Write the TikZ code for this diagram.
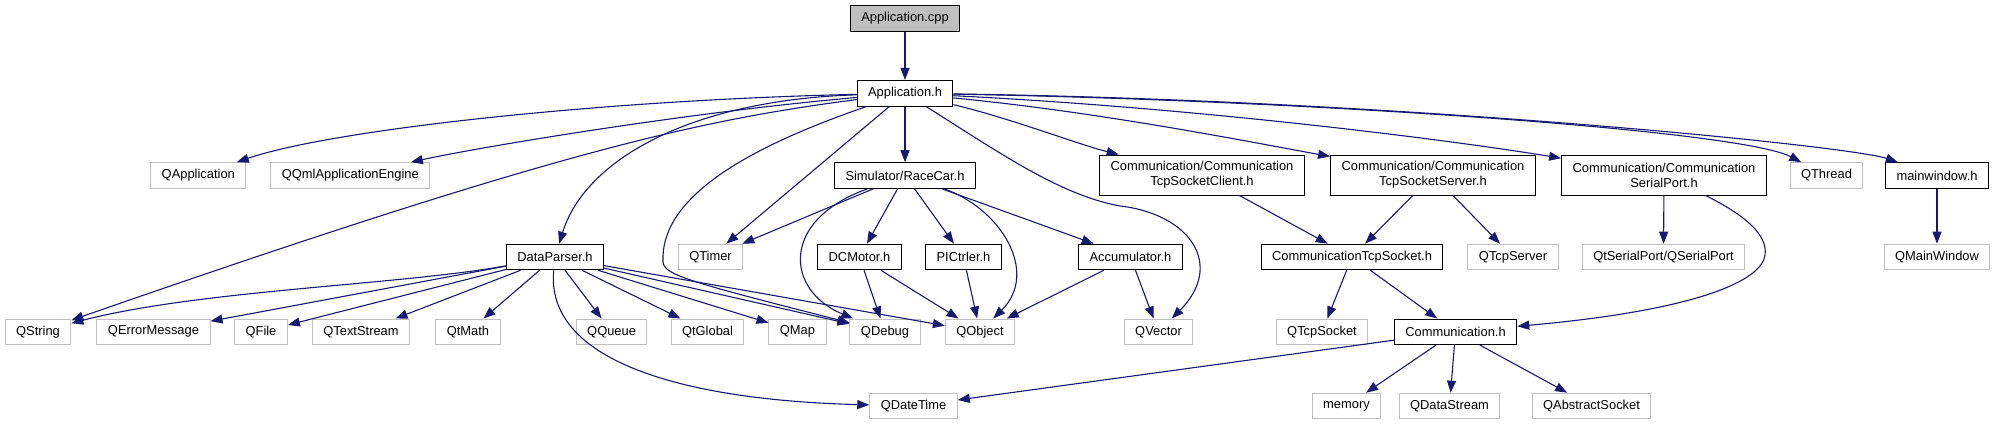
\documentclass[tikz,border=0pt]{standalone}
\usepackage{fontspec}
\setmainfont{Liberation Sans}
\definecolor{edgeblue}{RGB}{25,25,112}
\definecolor{extgray}{RGB}{191,191,191}
\usetikzlibrary{arrows.meta}
\tikzset{
	header/.style={rectangle, draw=black, fill=white, line width=1pt, inner xsep=11pt, inner ysep=2pt, minimum height=25.6pt, align=center, font=\fontsize{12.9}{15}\selectfont},
	twoline/.style={header, minimum height=40pt},
	extern/.style={header, draw=extgray},
	source/.style={header, fill=extgray},
	incl/.style={-{Triangle[length=12pt, width=9pt]}, line width=1.1pt, draw=edgeblue},
}
\begin{document}
\begin{tikzpicture}[x=1pt, y=-1pt]
		\useasboundingbox (0,0) rectangle (1996,425);
		\fill[white] (0,0) rectangle (1996,425);
		\node[source] (appcpp) at (905,18.5) {Application.cpp};
		\node[header] (apph) at (905,93.3) {Application.h};
		\node[extern] (qapplication) at (198.3,175.5) {QApplication};
		\node[extern] (qqmlengine) at (350.3,175.5) {QQmlApplicationEngine};
		\node[header] (racecar) at (905,175.5) {Simulator/RaceCar.h};
		\node[twoline] (commclient) at (1202,175) {Communication/Communication\\TcpSocketClient.h};
		\node[twoline] (commserver) at (1433,175) {Communication/Communication\\TcpSocketServer.h};
		\node[twoline] (commserial) at (1664,175) {Communication/Communication\\SerialPort.h};
		\node[extern] (qthread) at (1826.5,175.5) {QThread};
		\node[header] (mainwindow) at (1937,175.5) {mainwindow.h};
		\node[header] (dataparser) at (555,257) {DataParser.h};
		\node[extern] (qtimer) at (710.5,257) {QTimer};
		\node[header] (dcmotor) at (859.5,257) {DCMotor.h};
		\node[header] (pictrler) at (963.5,257) {PICtrler.h};
		\node[header] (accumulator) at (1130.5,257) {Accumulator.h};
		\node[header] (tcpsocketh) at (1352,257) {CommunicationTcpSocket.h};
		\node[extern] (qtcpserver) at (1513,257) {QTcpServer};
		\node[extern] (qserialport) at (1663.5,257) {QtSerialPort/QSerialPort};
		\node[extern] (qmainwindow) at (1937,257) {QMainWindow};
		\node[extern] (qstring) at (38,331.8) {QString};
		\node[extern] (qerrormessage) at (153.5,331.8) {QErrorMessage};
		\node[extern] (qfile) at (261,331.8) {QFile};
		\node[extern] (qtextstream) at (361,331.8) {QTextStream};
		\node[extern] (qtmath) at (468,331.8) {QtMath};
		\node[extern] (qqueue) at (611.6,331.8) {QQueue};
		\node[extern] (qtglobal) at (707.5,331.8) {QtGlobal};
		\node[extern] (qmap) at (797.5,331.8) {QMap};
		\node[extern] (qdebug) at (885,331.8) {QDebug};
		\node[extern] (qobject) at (980,331.8) {QObject};
		\node[extern] (qvector) at (1158.5,331.8) {QVector};
		\node[extern] (qtcpsocket) at (1322,331.8) {QTcpSocket};
		\node[header] (commh) at (1455.5,331.8) {Communication.h};
		\node[extern] (qdatetime) at (913.5,406) {QDateTime};
		\node[extern] (memory) at (1346.5,406) {memory};
		\node[extern] (qdatastream) at (1449.5,406) {QDataStream};
		\node[extern] (qabstractsocket) at (1591.5,406) {QAbstractSocket};
		\draw[incl] (appcpp) -- (apph);
		\draw[incl] (apph) .. controls (600,100) and (330,130) .. (qapplication);
		\draw[incl] (apph) .. controls (690,112) and (480,147) .. (qqmlengine);
		\draw[incl] (apph) .. controls (700,120) and (560,150) .. (qstring);
		\draw[incl] (apph) .. controls (690,100) and (585,160) .. (dataparser);
		\draw[incl] (apph) .. controls (740,150) and (660,200) .. (663,262) .. controls (664,275) and (690,282) .. (qdebug);
		\draw[incl] (apph) -- (qtimer);
		\draw[incl] (apph) -- (racecar);
		\draw[incl] (apph) .. controls (1000,153) and (1060,195) .. (1120,206) .. controls (1190,214) and (1225,265) .. (qvector);
		\draw[incl] (apph) .. controls (1010,118) and (1080,145) .. (commclient);
		\draw[incl] (apph) .. controls (1100,112) and (1250,142) .. (commserver);
		\draw[incl] (apph) .. controls (1200,108) and (1450,140) .. (commserial);
		\draw[incl] (apph) .. controls (1300,100) and (1740,130) .. (qthread);
		\draw[incl] (apph) .. controls (1400,100) and (1850,146) .. (mainwindow);
		\draw[incl] (racecar) -- (qtimer);
		\draw[incl] (racecar) -- (dcmotor);
		\draw[incl] (racecar) -- (pictrler);
		\draw[incl] (racecar) -- (accumulator);
		\draw[incl] (racecar) .. controls (780,220) and (785,290) .. (qdebug);
		\draw[incl] (racecar) .. controls (1000,208) and (1040,272) .. (qobject);
		\draw[incl] (dataparser) .. controls (400,285) and (200,290) .. (qstring);
		\draw[incl] (dataparser) -- (qerrormessage);
		\draw[incl] (dataparser) -- (qfile);
		\draw[incl] (dataparser) -- (qtextstream);
		\draw[incl] (dataparser) -- (qtmath);
		\draw[incl] (dataparser) .. controls (545,360) and (680,400) .. (qdatetime);
		\draw[incl] (dataparser) -- (qqueue);
		\draw[incl] (dataparser) -- (qtglobal);
		\draw[incl] (dataparser) -- (qmap);
		\draw[incl] (dataparser) -- (qdebug);
		\draw[incl] (dataparser) -- (qobject);
		\draw[incl] (dcmotor) -- (qdebug);
		\draw[incl] (dcmotor) -- (qobject);
		\draw[incl] (pictrler) -- (qobject);
		\draw[incl] (accumulator) -- (qobject);
		\draw[incl] (accumulator) -- (qvector);
		\draw[incl] (commclient) -- (tcpsocketh);
		\draw[incl] (commserver) -- (tcpsocketh);
		\draw[incl] (commserver) -- (qtcpserver);
		\draw[incl] (commserial) -- (qserialport);
		\draw[incl] (commserial) .. controls (1745,215) and (1768,235) .. (1765,255) .. controls (1762,280) and (1700,310) .. (commh);
		\draw[incl] (mainwindow) -- (qmainwindow);
		\draw[incl] (tcpsocketh) -- (qtcpsocket);
		\draw[incl] (tcpsocketh) -- (commh);
		\draw[incl] (commh) -- (qdatetime);
		\draw[incl] (commh) -- (memory);
		\draw[incl] (commh) -- (qdatastream);
		\draw[incl] (commh) -- (qabstractsocket);
	\end{tikzpicture}
\end{document}
